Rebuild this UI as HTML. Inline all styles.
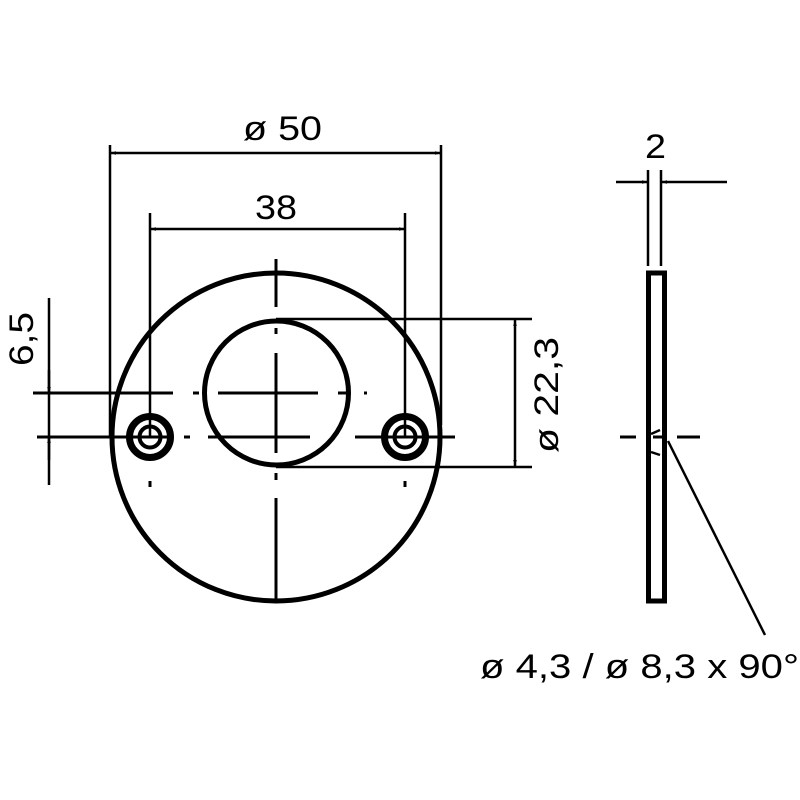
<!DOCTYPE html>
<html><head><style>body{margin:0;background:#fff}svg{display:block}text{font-family:"Liberation Sans",sans-serif;fill:#000}</style></head><body>
<svg width="800" height="800" viewBox="0 0 800 800" xmlns="http://www.w3.org/2000/svg">
<defs><marker id="a" viewBox="0 0 10 10" refX="10" refY="5" markerWidth="10" markerHeight="6" orient="auto-start-reverse" markerUnits="userSpaceOnUse"><path d="M0,2 L10,5 L0,8 z" fill="#000"/></marker></defs>
<g stroke="#000" fill="none">
<circle cx="276" cy="437" r="164" stroke-width="5"/>
<circle cx="276.5" cy="393" r="72" stroke-width="5"/>
<circle cx="150" cy="437" r="20.5" stroke-width="7"/>
<circle cx="150" cy="437" r="10.5" stroke-width="4"/>
<circle cx="405" cy="437" r="20.5" stroke-width="7"/>
<circle cx="405" cy="437" r="10.5" stroke-width="4"/>
<g stroke-width="3">
<path d="M276 259V307M276 328V334M276 353V453M276 473V480M276 498V600"/>
<path d="M33 393H173M193 393H199M218 393H318M338 393H348M364 393H367"/>
<path d="M37 437H167M184 437H190M208 437H310M355 437H455"/>
<path d="M150 481V487M405 481V487"/>
<path d="M620 437H636M653 437H664M677 437H700"/>
</g>
<g stroke-width="2.5">
<path d="M110 145V437M441 145V425M150 213V437M405 213V437"/>
<path d="M276 319H532M276 467H532"/>
<path d="M648 170V266M661 170V266"/>
<path d="M49 298V485"/>
<path d="M668 441L765 635"/>
</g>
<g stroke-width="2.5">
<path d="M110 153H441" marker-start="url(#a)" marker-end="url(#a)"/>
<path d="M150 229H405" marker-start="url(#a)" marker-end="url(#a)"/>
<path d="M515 320V466" marker-start="url(#a)" marker-end="url(#a)"/>
<path d="M616 182H648" marker-end="url(#a)"/>
<path d="M727 182H661" marker-end="url(#a)"/>
<path d="M49 370V393" marker-end="url(#a)"/>
<path d="M49 460V437" marker-end="url(#a)"/>
</g>
<rect x="648.5" y="273" width="16" height="328" stroke-width="5"/>
<path d="M651 434L660 430M651 452L660 455" stroke-width="2.5"/>
</g>
<text x="243" y="140" font-size="34" textLength="79" lengthAdjust="spacingAndGlyphs">ø 50</text>
<text x="255" y="219" font-size="34" textLength="42" lengthAdjust="spacingAndGlyphs">38</text>
<text x="645" y="158" font-size="34" textLength="21" lengthAdjust="spacingAndGlyphs">2</text>
<text transform="translate(33,366) rotate(-90)" font-size="34" textLength="54" lengthAdjust="spacingAndGlyphs">6,5</text>
<text transform="translate(558,453) rotate(-90)" font-size="34" textLength="116" lengthAdjust="spacingAndGlyphs">ø 22,3</text>
<text x="480" y="678" font-size="34" textLength="319" lengthAdjust="spacingAndGlyphs">ø 4,3 / ø 8,3 x 90°</text>
</svg>
</body></html>
